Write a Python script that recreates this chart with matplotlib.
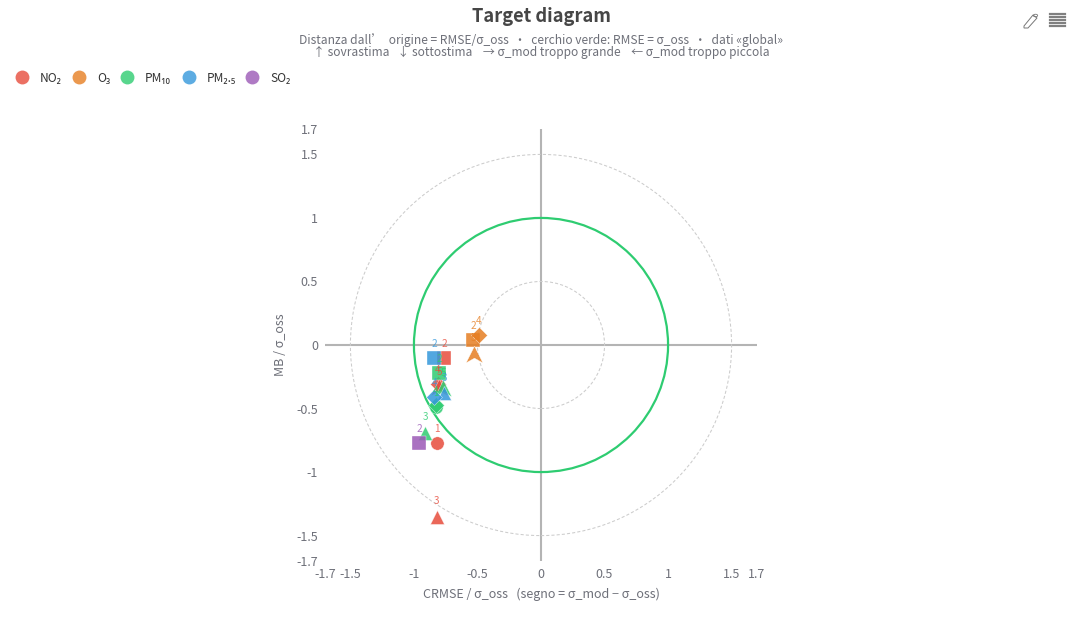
import matplotlib
matplotlib.use("Agg")
import matplotlib.pyplot as plt
from matplotlib.lines import Line2D
from matplotlib.patches import Circle, Polygon
from matplotlib.path import Path

plt.rcParams['font.family'] = ['Noto Sans CJK SC', 'Noto Sans', 'DejaVu Sans']

W, H = 1082, 621
GREY = "#6e7079"

names = ["NO₂", "O₃", "PM₁₀", "PM₂.₅", "SO₂"]
colors = ["#e74c3c", "#e67e22", "#2ecc71", "#3498db", "#9b59b6"]
legend_x = [22, 79, 127, 189, 252]

# model index of each point (also picks the symbol), then CRMSE and MB
no2_id = [1, 2, 3, 4, 5]
no2_x = [-0.82, -0.76, -0.82, -0.81, -0.80]
no2_y = [-0.77, -0.10, -1.35, -0.31, -0.33]

o3_id = [2, 4, 5]
o3_x = [-0.535, -0.49, -0.53]
o3_y = [0.04, 0.08, -0.07]

pm10_id = [1, 2, 3, 4, 5]
pm10_x = [-0.83, -0.80, -0.91, -0.83, -0.77]
pm10_y = [-0.49, -0.22, -0.69, -0.47, -0.34]

pm25_id = [2, 3, 4]
pm25_x = [-0.84, -0.76, -0.84]
pm25_y = [-0.10, -0.38, -0.41]

so2_id = [2]
so2_x = [-0.96]
so2_y = [-0.77]

series_id = [no2_id, o3_id, pm10_id, pm25_id, so2_id]
series_x = [no2_x, o3_x, pm10_x, pm25_x, so2_x]
series_y = [no2_y, o3_y, pm10_y, pm25_y, so2_y]

x_ticks = [-1.7, -1.5, -1, -0.5, 0, 0.5, 1, 1.5, 1.7]
tick_labels = ["-1.7", "-1.5", "-1", "-0.5", "0", "0.5", "1", "1.5", "1.7"]
limit = 1.7

# notched arrowhead, same shape as the echarts "arrow" symbol
arrow = Path([(0, 0.5), (0.5, -0.5), (0, -0.22), (-0.5, -0.5), (0, 0.5)],
             [Path.MOVETO, Path.LINETO, Path.LINETO, Path.LINETO, Path.CLOSEPOLY])
diamond = Path([(0, 0.5), (0.5, 0), (0, -0.5), (-0.5, 0), (0, 0.5)],
               [Path.MOVETO, Path.LINETO, Path.LINETO, Path.LINETO, Path.CLOSEPOLY])
triangle = Path([(0, 0.5), (0.5, -0.5), (-0.5, -0.5), (0, 0.5)],
                [Path.MOVETO, Path.LINETO, Path.LINETO, Path.CLOSEPOLY])
symbols = {1: "o", 2: "s", 3: triangle, 4: diamond, 5: arrow}
sizes = {1: 9.6, 2: 9.6, 3: 10, 4: 11.5, 5: 12}
label_gap = {1: 6.5, 2: 6.5, 3: 7.5, 4: 6.5, 5: 7.5}


def px(size):
    return size * 0.72


fig = plt.figure(figsize=(W / 100, H / 100), dpi=100)
ax = fig.add_axes([325 / W, 1 - 561 / H, 432 / W, 432 / H])
ax.set_xlim(-limit, limit)
ax.set_ylim(-limit, limit)
for s in ax.spines.values():
    s.set_visible(False)

ax.set_xticks(x_ticks)
ax.set_xticklabels(tick_labels)
ax.set_yticks(x_ticks)
ax.set_yticklabels(tick_labels)
ax.tick_params(length=0, labelsize=px(12.5), labelcolor=GREY)
ax.tick_params(axis="x", pad=5)
ax.tick_params(axis="y", pad=5)

ax.axhline(0, color="#b4b4b4", lw=1.5, zorder=1)
ax.axvline(0, color="#b4b4b4", lw=1.5, zorder=1)

for r in [0.5, 1.5]:
    ax.add_patch(Circle((0, 0), r, fill=False, ec="#cccccc", lw=0.75, ls=(0, (3, 2)), zorder=2))
ax.add_patch(Circle((0, 0), 1, fill=False, ec="#2ecc71", lw=1.6, zorder=2))

for color, ids, xs, ys in zip(colors, series_id, series_x, series_y):
    for i, x, y in zip(ids, xs, ys):
        ax.plot([x], [y], marker=symbols[i], ms=sizes[i], color=color, mec="white",
                mew=0.3, alpha=0.85, ls="none", zorder=3)
        ax.annotate(str(i), (x, y), xytext=(0, label_gap[i]), textcoords="offset points",
                    ha="center", va="bottom", fontsize=px(10), color=color, alpha=0.8, zorder=4)

fig.text(541 / W, 1 - 16 / H, "Target diagram", ha="center", va="center",
         fontsize=px(18.3), fontweight="bold", color="#464646")
fig.text(541 / W, 1 - 40 / H,
         "Distanza dall’  origine = RMSE/σ_oss  ·  cerchio verde: RMSE = σ_oss  ·  dati «global»",
         ha="center", va="center", fontsize=px(12), color=GREY)
fig.text(541 / W, 1 - 52 / H,
         "↑ sovrastima   ↓ sottostima    → σ_mod troppo grande    ← σ_mod troppo piccola",
         ha="center", va="center", fontsize=px(12), color=GREY)

fig.text(541 / W, 1 - 594 / H, "CRMSE / σ_oss   (segno = σ_mod − σ_oss)", ha="center", va="center",
         fontsize=px(12.5), color=GREY)
fig.text(281 / W, 1 - 345 / H, "MB / σ_oss", ha="center", va="center", rotation=90,
         fontsize=px(12.5), color=GREY)

# legend strip along the top left
for name, color, lx in zip(names, colors, legend_x):
    fig.add_artist(Line2D([lx / W], [1 - 77 / H], marker="o", ms=10, color=color, mew=0,
                          alpha=0.8, transform=fig.transFigure))
    fig.text((lx + 18) / W, 1 - 78 / H, name, ha="left", va="center", fontsize=px(12), color="#333333")

# toolbox icons, top right
pencil = [(1024, 26), (1033, 15), (1037, 18), (1028, 28), (1024, 28)]
fig.add_artist(Polygon([(x / W, 1 - y / H) for x, y in pencil], closed=True, fill=False,
                       ec="#777777", lw=0.7, transform=fig.transFigure))
fig.add_artist(Circle((1035.5 / W, 1 - 15.5 / H), 0.002, fill=False, ec="#777777", lw=0.6,
                      transform=fig.transFigure))
for y in [14, 17, 20, 23, 26]:
    fig.add_artist(Line2D([1050 / W, 1065 / W], [1 - y / H, 1 - y / H], color="#808080", lw=1.6,
                          transform=fig.transFigure))

fig.savefig("out.png", dpi=100, facecolor="white")
